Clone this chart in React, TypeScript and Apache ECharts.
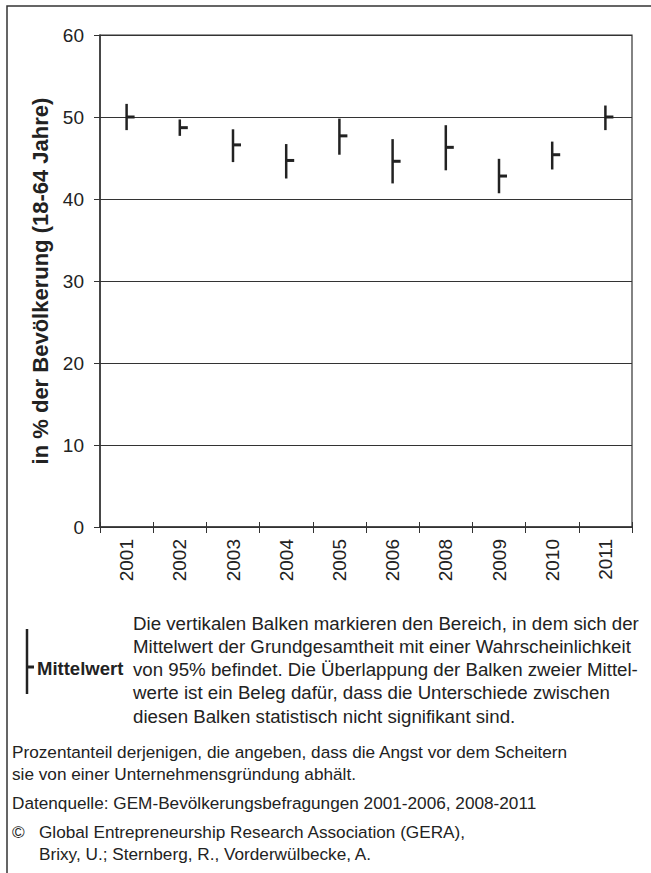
import React, { useEffect, useRef } from "react";
import * as echarts from "echarts";

const years = ["2001", "2002", "2003", "2004", "2005", "2006", "2008", "2009", "2010", "2011"];
const means = [50.0, 48.7, 46.6, 44.7, 47.7, 44.6, 46.3, 42.8, 45.4, 50.0];
const lows = [48.4, 47.7, 44.5, 42.5, 45.4, 41.9, 43.5, 40.7, 43.6, 48.4];
const highs = [51.6, 49.7, 48.5, 46.7, 49.8, 47.3, 49.0, 44.9, 47.0, 51.4];
const yTicks = [0, 10, 20, 30, 40, 50, 60];

const yAxisTitle = "in % der Bevölkerung (18-64 Jahre)";
const legendLabel = "Mittelwert";
const legendText = [
  "Die vertikalen Balken markieren den Bereich, in dem sich der",
  "Mittelwert der Grundgesamtheit mit einer Wahrscheinlichkeit",
  "von 95% befindet. Die Überlappung der Balken zweier Mittel-",
  "werte ist ein Beleg dafür, dass die Unterschiede zwischen",
  "diesen Balken statistisch nicht signifikant sind.",
];
const noteLines = [
  "Prozentanteil derjenigen, die angeben, dass die Angst vor dem Scheitern",
  "sie von einer Unternehmensgründung abhält.",
];
const sourceLine = "Datenquelle: GEM-Bevölkerungsbefragungen 2001-2006, 2008-2011";
const copyrightLines = [
  "Global Entrepreneurship Research Association (GERA),",
  "Brixy, U.; Sternberg, R., Vorderwülbecke, A.",
];

const FONT = "'Liberation Sans', Arial, Helvetica, sans-serif";
const TXT = "#222";
const LINE = "#333";

export default function App() {
  const ref = useRef<HTMLDivElement>(null);

  useEffect(() => {
    if (!ref.current) return;
    const chart = echarts.init(ref.current, undefined, { renderer: "svg" });

    const data = years.map((_, i) => [i, lows[i], means[i], highs[i]]);

    const graphics: any[] = [];
    // outer frame (top and left)
    graphics.push({
      type: "polyline",
      shape: { points: [[7, 873], [7, 6], [651, 6]] },
      style: { stroke: LINE, lineWidth: 1.5, fill: null },
      silent: true,
    });
    // legend symbol
    graphics.push({
      type: "line",
      shape: { x1: 27, y1: 629, x2: 27, y2: 694 },
      style: { stroke: TXT, lineWidth: 2.5 },
    });
    graphics.push({
      type: "line",
      shape: { x1: 27, y1: 667, x2: 34, y2: 667 },
      style: { stroke: TXT, lineWidth: 3 },
    });
    graphics.push({
      type: "text",
      x: 37,
      y: 668,
      style: {
        text: legendLabel,
        font: `bold 18.5px ${FONT}`,
        fill: TXT,
        textVerticalAlign: "middle",
      },
    });
    legendText.forEach((t, i) => {
      graphics.push({
        type: "text",
        x: 133,
        y: 623 + i * 23.3,
        style: { text: t, font: `18.7px ${FONT}`, fill: TXT, textVerticalAlign: "middle" },
      });
    });
    noteLines.forEach((t, i) => {
      graphics.push({
        type: "text",
        x: 12,
        y: 752 + i * 21.5,
        style: { text: t, font: `17.2px ${FONT}`, fill: TXT, textVerticalAlign: "middle" },
      });
    });
    graphics.push({
      type: "text",
      x: 12,
      y: 803,
      style: { text: sourceLine, font: `17.2px ${FONT}`, fill: TXT, textVerticalAlign: "middle" },
    });
    graphics.push({
      type: "text",
      x: 12,
      y: 832,
      style: { text: "©", font: `17.2px ${FONT}`, fill: TXT, textVerticalAlign: "middle" },
    });
    copyrightLines.forEach((t, i) => {
      graphics.push({
        type: "text",
        x: 39,
        y: 832 + i * 21.5,
        style: { text: t, font: `17.2px ${FONT}`, fill: TXT, textVerticalAlign: "middle" },
      });
    });

    chart.setOption({
      animation: false,
      backgroundColor: "#fff",
      grid: {
        left: 100,
        top: 35,
        right: 19,
        bottom: 346,
        show: true,
        borderColor: LINE,
        borderWidth: 1.2,
        backgroundColor: "transparent",
      },
      xAxis: [
        {
          type: "category",
          data: years,
          position: "bottom",
          boundaryGap: true,
          axisLine: { show: true, lineStyle: { color: LINE, width: 1.5 } },
          axisTick: { show: true, interval: 0, length: 6, lineStyle: { color: LINE, width: 1 } },
          axisLabel: {
            interval: 0,
            rotate: 90,
            margin: 12,
            color: TXT,
            fontSize: 19,
            fontFamily: FONT,
          },
          splitLine: { show: false },
        },
        {
          type: "category",
          data: years,
          position: "bottom",
          boundaryGap: true,
          axisLine: { show: false },
          axisTick: { show: true, inside: true, interval: 0, length: 5, lineStyle: { color: LINE, width: 1 } },
          axisLabel: { show: false },
          splitLine: { show: false },
        },
      ],
      yAxis: {
        type: "value",
        min: 0,
        max: 60,
        interval: 10,
        name: yAxisTitle,
        nameLocation: "middle",
        nameGap: 47,
        nameTextStyle: { color: TXT, fontSize: 22, fontWeight: "bold", fontFamily: FONT },
        axisLine: { show: true, lineStyle: { color: LINE, width: 1.5 } },
        axisTick: { show: true, length: 6, lineStyle: { color: LINE, width: 1 } },
        axisLabel: {
          margin: 16,
          color: TXT,
          fontSize: 19,
          fontFamily: FONT,
          formatter: (v: number) => (yTicks.includes(v) ? String(v) : ""),
        },
        splitLine: { show: true, lineStyle: { color: LINE, width: 1 } },
      },
      series: [
        {
          type: "custom",
          xAxisIndex: 0,
          data,
          encode: { x: 0, y: [1, 2, 3] },
          renderItem: (params: any, api: any) => {
            const idx = api.value(0);
            const top = api.coord([idx, api.value(3)]);
            const bot = api.coord([idx, api.value(1)]);
            const mid = api.coord([idx, api.value(2)]);
            return {
              type: "group",
              children: [
                {
                  type: "line",
                  shape: { x1: top[0], y1: top[1], x2: bot[0], y2: bot[1] },
                  style: { stroke: TXT, lineWidth: 2.5 },
                },
                {
                  type: "line",
                  shape: { x1: mid[0], y1: mid[1], x2: mid[0] + 8, y2: mid[1] },
                  style: { stroke: TXT, lineWidth: 3 },
                },
              ],
            };
          },
        },
      ],
      graphic: graphics,
    });

    return () => chart.dispose();
  }, []);

  return (
    <div
      ref={ref}
      style={{ position: "absolute", left: 0, top: 0, width: 651, height: 873, background: "#fff" }}
    />
  );
}
